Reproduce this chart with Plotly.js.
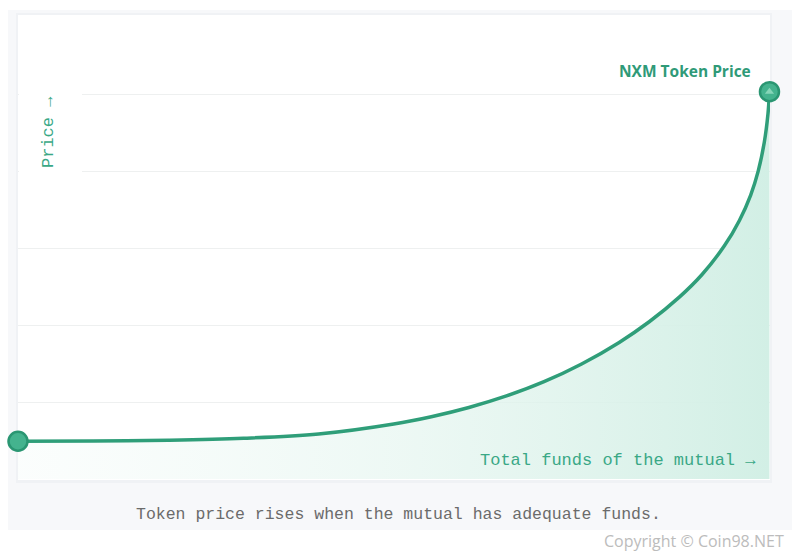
<!DOCTYPE html>
<html>
<head>
<meta charset="utf-8">
<script src="https://cdn.plot.ly/plotly-3.0.1.min.js"></script>
<style>html,body{margin:0;padding:0;background:#fff;}#chart{width:800px;height:557px;}</style>
</head>
<body>
<div id="chart"></div>
<script>
// Total funds of the mutual (relative units)
const funds = [0, 10, 20, 30, 40, 50, 55, 60, 65, 70, 75, 80, 84, 88, 91, 94, 96, 97.5, 98.5, 99.3, 99.8, 100];
// NXM token price (relative units)
const price = [0.49, 0.494, 0.504, 0.529, 0.584, 0.714, 0.809, 0.929, 1.079, 1.264, 1.494, 1.774, 2.042, 2.362, 2.653, 3.028, 3.358, 3.688, 3.998, 4.366, 4.741, 5.03];
const gridVals = [1, 2, 3, 4, 5];

const W = 800, H = 557, ML = 18, MR = 30, MT = 15, MB = 78;
const PW = W - ML - MR, PH = H - MT - MB;
const px = v => (v - ML) / PW;          // pixel x -> paper x
const py = v => (H - MB - v) / PH;      // pixel y -> paper y

const green = '#2f9e79';
const last = funds.length - 1;

const traces = [
  {
    x: funds, y: price, mode: 'lines', type: 'scatter',
    line: {color: green, width: 3.5, shape: 'spline', smoothing: 1},
    fill: 'tozeroy',
    fillgradient: {type: 'horizontal', colorscale: [[0, 'rgba(236,248,244,0.2)'], [0.5, 'rgba(228,245,239,0.65)'], [1, 'rgba(210,239,229,1)']]},
    hoverinfo: 'skip', showlegend: false
  },
  {
    x: [funds[0], funds[last]], y: [price[0], price[last]], mode: 'markers', type: 'scatter',
    marker: {symbol: 'circle', size: 19, color: '#44b38e', line: {color: '#2a9672', width: 2.5}},
    cliponaxis: false, hoverinfo: 'skip', showlegend: false
  },
  {
    x: [funds[last]], y: [price[last]], mode: 'markers', type: 'scatter',
    marker: {symbol: 'triangle-up', size: 8, color: '#86d5b8'},
    cliponaxis: false, hoverinfo: 'skip', showlegend: false
  }
];

const layout = {
  width: W, height: H,
  margin: {l: ML, r: MR, t: MT, b: MB, pad: 0},
  paper_bgcolor: '#ffffff', plot_bgcolor: 'rgba(0,0,0,0)',
  showlegend: false,
  xaxis: {range: [0, 100.07], showgrid: false, zeroline: false, showticklabels: false, ticks: '', showline: false, fixedrange: true},
  yaxis: {range: [0, PH / 77], tickvals: gridVals, showgrid: true, gridcolor: '#eef0f0', gridwidth: 1, zeroline: false, showticklabels: false, ticks: '', showline: false, fixedrange: true},
  shapes: [
    {type: 'rect', xref: 'paper', yref: 'paper', x0: px(8), x1: px(792), y0: py(530), y1: py(10), fillcolor: '#f7f8fa', line: {width: 0}, layer: 'below'},
    {type: 'rect', xref: 'paper', yref: 'paper', x0: px(16), x1: px(772), y0: py(483), y1: py(13), fillcolor: 'rgba(210,214,220,0.18)', line: {width: 0}, layer: 'below'},
    {type: 'rect', xref: 'paper', yref: 'paper', x0: px(18), x1: px(770), y0: py(480), y1: py(15), fillcolor: '#ffffff', line: {width: 0}, layer: 'below'},
    {type: 'rect', xref: 'paper', yref: 'paper', x0: px(19), x1: px(82), y0: py(182), y1: py(84), fillcolor: '#ffffff', line: {width: 0}, layer: 'above'}
  ],
  annotations: [
    {text: 'NXM Token Price', xref: 'paper', yref: 'paper', x: px(753), y: py(71), xanchor: 'right', yanchor: 'middle', showarrow: false,
     font: {family: 'Open Sans, sans-serif', size: 15.5, color: '#2f9a78', weight: 700}},
    {text: 'Price →', xref: 'paper', yref: 'paper', x: px(48), y: py(132), xanchor: 'center', yanchor: 'middle', textangle: -90, showarrow: false,
     font: {family: 'Liberation Mono, monospace', size: 17, color: '#3aa886'}},
    {text: 'Total funds of the mutual →', xref: 'paper', yref: 'paper', x: px(758), y: py(460), xanchor: 'right', yanchor: 'middle', showarrow: false,
     font: {family: 'Liberation Mono, monospace', size: 17, color: '#3aa886'}},
    {text: 'Token price rises when the mutual has adequate funds.', xref: 'paper', yref: 'paper', x: px(398), y: py(514), xanchor: 'center', yanchor: 'middle', showarrow: false,
     font: {family: 'Liberation Mono, monospace', size: 16.5, color: '#6b6b6b'}},
    {text: 'Copyright © Coin98.NET', xref: 'paper', yref: 'paper', x: px(786), y: py(541), xanchor: 'right', yanchor: 'middle', showarrow: false,
     font: {family: 'Open Sans, sans-serif', size: 16, color: '#bcbcbc'}}
  ]
};

Plotly.newPlot('chart', traces, layout, {displayModeBar: false, staticPlot: true});
</script>
</body>
</html>
